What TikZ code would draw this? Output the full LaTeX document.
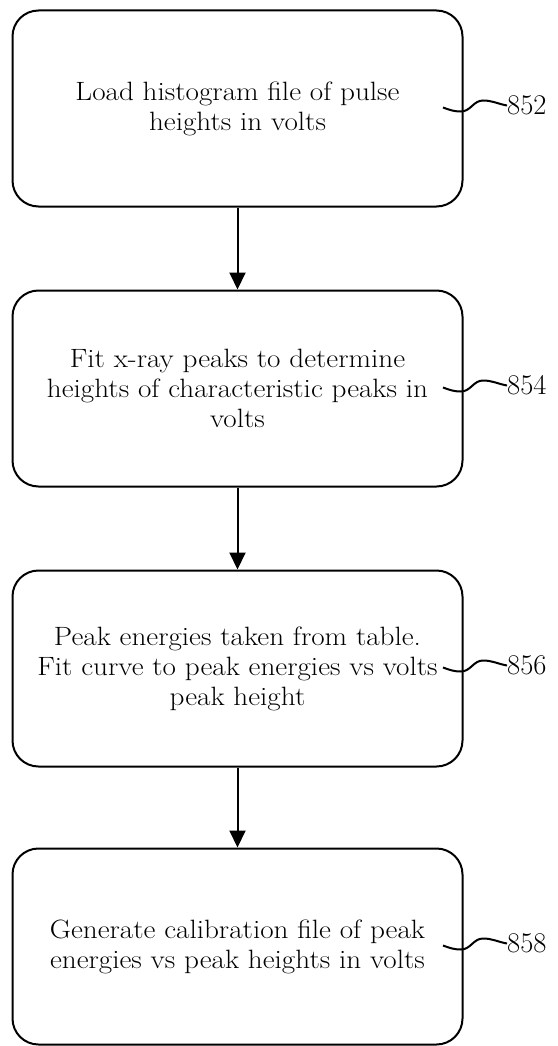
\documentclass[tikz,border=0pt]{standalone}
\usepackage{graphicx}
\usetikzlibrary{arrows.meta}
\newcommand\sx[1]{\scalebox{1.10}[1]{#1}}
\begin{document}
\begin{tikzpicture}[x=1pt,y=-1pt,
  stepbox/.style={draw,line width=2pt,rounded corners=26pt,minimum width=450pt,minimum height=196pt,align=center,inner sep=0pt,font=\fontsize{26.5}{30}\selectfont},
  flow/.style={line width=2pt,-{Triangle[length=17pt,width=16pt]}},
  reflbl/.style={anchor=west,inner sep=0pt,font=\fontsize{28.5}{30}\selectfont},
  squig/.style={line width=2pt}]
\useasboundingbox (0,0) rectangle (557,1046);
\node[stepbox] (b1) at (237.5,108.5) {\sx{Load histogram file of pulse}\\\sx{heights in volts}};
\node[stepbox] (b2) at (237.5,388.5) {\sx{Fit x-ray peaks to determine}\\\sx{heights of characteristic peaks in}\\\sx{volts}};
\node[stepbox] (b3) at (237.5,668.5) {\sx{Peak energies taken from table.}\\\sx{Fit curve to peak energies vs volts}\\\sx{peak height}};
\node[stepbox] (b4) at (237.5,946.5) {\sx{Generate calibration file of peak}\\\sx{energies vs peak heights in volts}};
\draw[flow] (b1) -- (b2);
\draw[flow] (b2) -- (b3);
\draw[flow] (b3) -- (b4);
\foreach \i/\n/\cy in {1/852/108.5,2/854/388.5,3/856/668.5,4/858/946.5}{
  \node[reflbl] (l\i) at (507,\cy-3) {\n};
  \coordinate (s\i) at (443,\cy-1);
  \draw[squig] (s\i) to[out=-20,in=180] (461,\cy+3) to[out=0,in=180] (483,\cy-8) to[out=0,in=170] (l\i.west);
}
\end{tikzpicture}
\end{document}
